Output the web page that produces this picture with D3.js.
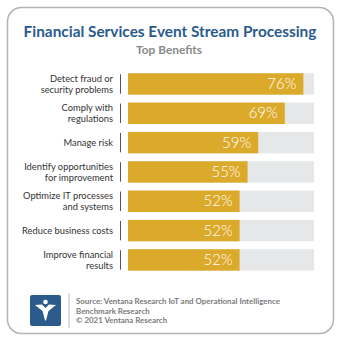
<!DOCTYPE html>
<html>
<head>
<meta charset="utf-8">
<script src="https://cdn.jsdelivr.net/npm/d3@7/dist/d3.min.js"></script>
<style>
  html, body { margin: 0; padding: 0; background: #fff; }
  svg { display: block; }
</style>
</head>
<body>
<script>
// Survey results: share of respondents naming each benefit
const categories = [
  ["Detect fraud or", "security problems"],
  ["Comply with", "regulations"],
  ["Manage risk"],
  ["Identify opportunities", "for improvement"],
  ["Optimize IT processes", "and systems"],
  ["Reduce business costs"],
  ["Improve financial", "results"]
];
const values = [76, 69, 59, 55, 52, 52, 52];
const axisDomain = [10, 80];

const title = "Financial Services Event Stream Processing";
const subtitle = "Top Benefits";
const sourceLines = [
  "Source: Ventana Research IoT and Operational Intelligence",
  "Benchmark Research",
  "\u00A9 2021 Ventana Research"
];

const W = 340, H = 341;
const FONT = "Lato, 'Open Sans', 'Noto Sans', sans-serif";
const BLUE = "#2b5b8d";
const GOLD = "#dcaa2a";
const TRACK = "#e6e7e8";

const svg = d3.select("body").append("svg")
  .attr("width", W).attr("height", H);

// Frame
svg.append("rect")
  .attr("x", 7.5).attr("y", 7.5).attr("width", 326).attr("height", 326)
  .attr("rx", 14).attr("ry", 14)
  .attr("fill", "#fff").attr("stroke", "#b3b3b3").attr("stroke-width", 1.5);

// Scale a text element's font size so that it spans the target width
function fitWidth(sel, target) {
  const node = sel.node();
  const fs = parseFloat(sel.attr("font-size"));
  const w = node.getComputedTextLength();
  if (w > 0) sel.attr("font-size", (fs * target / w).toFixed(2));
}

const t = svg.append("text")
  .attr("x", 170).attr("y", 36.5)
  .attr("text-anchor", "middle")
  .attr("font-family", FONT).attr("font-weight", 700)
  .attr("font-size", 15).attr("fill", BLUE)
  .text(title);
fitWidth(t, 293);

const st = svg.append("text")
  .attr("x", 169).attr("y", 54.3)
  .attr("text-anchor", "middle")
  .attr("font-family", FONT).attr("font-weight", 700)
  .attr("font-size", 11).attr("fill", "#8a8a8a")
  .text(subtitle);
fitWidth(st, 66);

// Scales
const x = d3.scaleLinear().domain(axisDomain).range([128, 314]);
const y = d3.scaleBand()
  .domain(d3.range(values.length))
  .range([69.3, 274.6])
  .paddingInner(0.27).paddingOuter(0.135);

const rows = svg.append("g").selectAll("g")
  .data(values.map((v, i) => ({ v, i, label: categories[i] })))
  .join("g");

// Background track
rows.append("rect")
  .attr("x", x(axisDomain[0]))
  .attr("y", d => y(d.i))
  .attr("width", x(axisDomain[1]) - x(axisDomain[0]))
  .attr("height", y.bandwidth())
  .attr("fill", TRACK);

// Value bar
rows.append("rect")
  .attr("x", x(axisDomain[0]))
  .attr("y", d => y(d.i))
  .attr("width", d => x(d.v) - x(axisDomain[0]))
  .attr("height", y.bandwidth())
  .attr("fill", GOLD);

// Value label
rows.append("text")
  .attr("x", d => x(d.v) - 7)
  .attr("y", d => y(d.i) + y.bandwidth() / 2 + 5.2)
  .attr("text-anchor", "end")
  .attr("font-family", FONT).attr("font-weight", 300)
  .attr("font-size", 15).attr("fill", "#fff")
  .text(d => d.v + "%");

// Tick separator
rows.append("line")
  .attr("x1", 120.5).attr("x2", 120.5)
  .attr("y1", d => y(d.i) + 1)
  .attr("y2", d => y(d.i) + y.bandwidth() - 1)
  .attr("stroke", "#555").attr("stroke-width", 1);

// Category labels: one text per line, sized so the widest line spans ~91px
const LH = 11;
const labelLines = [];
categories.forEach((lines, i) => {
  lines.forEach((s, k) => labelLines.push({ s, i, k, n: lines.length }));
});
const labels = svg.append("g")
  .attr("font-family", FONT)
  .attr("font-size", 10)
  .attr("fill", "#333")
  .attr("text-anchor", "end");
const labelTexts = labels.selectAll("text")
  .data(labelLines)
  .join("text")
  .attr("x", 113)
  .attr("y", d => y(d.i) + y.bandwidth() / 2 + 3.6 + (d.k - (d.n - 1) / 2) * LH)
  .text(d => d.s);
const maxW = d3.max(labelTexts.nodes(), n => n.getComputedTextLength());
labels.attr("font-size", Math.min(10.5, 10 * 91 / maxW).toFixed(2));

// Footer logo
const logo = svg.append("g").attr("transform", "translate(30,295)");
logo.append("rect")
  .attr("width", 31).attr("height", 31).attr("rx", 2)
  .attr("fill", BLUE);
logo.append("path")
  .attr("d", "M5,10 L12,9.5 L15.5,13 L19,9.5 L26,10 L18.5,16 L16,25.5 L15,25.5 L12.5,16 Z")
  .attr("fill", "#fff");
logo.append("circle")
  .attr("cx", 15.5).attr("cy", 7).attr("r", 2.3)
  .attr("fill", "#fff");

svg.append("line")
  .attr("x1", 69).attr("x2", 69).attr("y1", 293).attr("y2", 328)
  .attr("stroke", "#c8c8c8").attr("stroke-width", 1.2);

// Source note
const srcG = svg.append("g")
  .attr("font-family", FONT).attr("font-weight", 700)
  .attr("font-size", 8).attr("fill", "#7a7a7a");
const srcTexts = srcG.selectAll("text")
  .data(sourceLines)
  .join("text")
  .attr("x", 76)
  .attr("y", (_, k) => 304 + k * 9.7)
  .text(s => s);
const srcW = srcTexts.node().getComputedTextLength();
srcG.attr("font-size", (8 * 204 / srcW).toFixed(2));
</script>
</body>
</html>
